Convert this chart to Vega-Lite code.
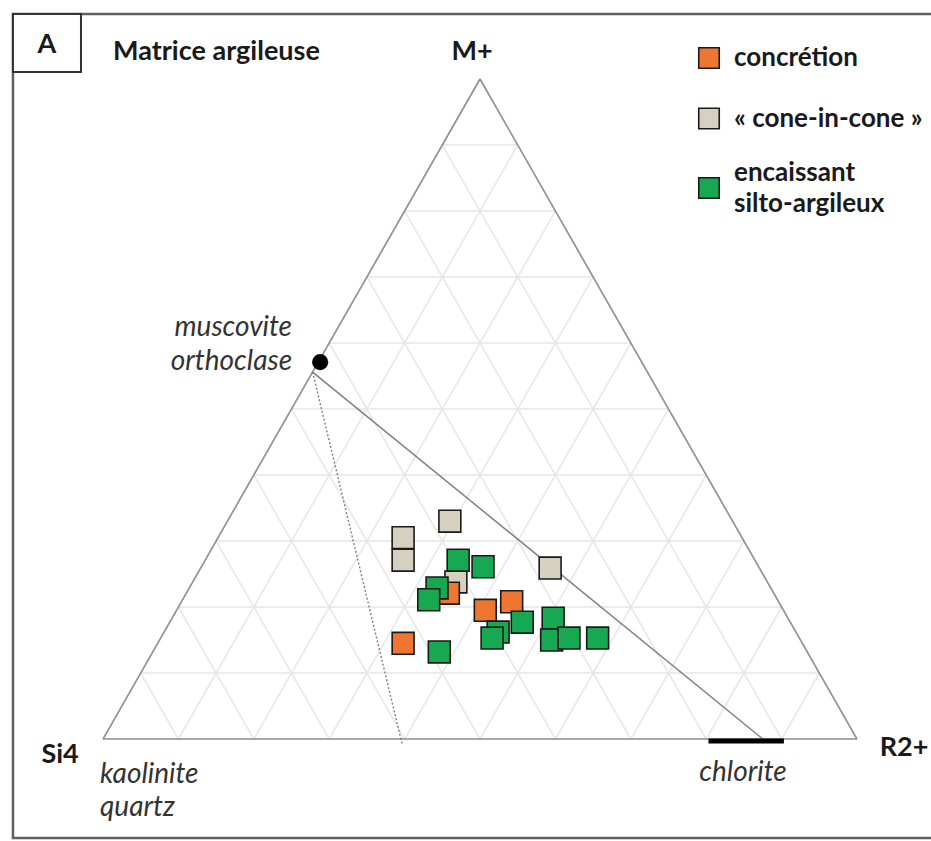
{
  "$schema": "https://vega.github.io/schema/vega-lite/v6.json",
  "width": 931,
  "height": 841,
  "autosize": {"type": "fit", "contains": "padding"},
  "padding": 0,
  "background": "white",
  "config": {"view": {"stroke": null}},
  "datasets": {
    "frame": [{"x": -0.1194, "y": 1.0985, "x2": 1.1034, "y2": -0.15}],
    "abox": [{"x": -0.1194, "y": 1.0985, "x2": -0.0292, "y2": 1.0106}],
    "grid": [
      {"x": 0.05, "y": 0.1, "x2": 0.95, "y2": 0.1}, {"x": 0.1, "y": 0, "x2": 0.55, "y2": 0.9}, {"x": 0.1, "y": 0, "x2": 0.05, "y2": 0.1},
      {"x": 0.1, "y": 0.2, "x2": 0.9, "y2": 0.2}, {"x": 0.2, "y": 0, "x2": 0.6, "y2": 0.8}, {"x": 0.2, "y": 0, "x2": 0.1, "y2": 0.2},
      {"x": 0.15, "y": 0.3, "x2": 0.85, "y2": 0.3}, {"x": 0.3, "y": 0, "x2": 0.65, "y2": 0.7}, {"x": 0.3, "y": 0, "x2": 0.15, "y2": 0.3},
      {"x": 0.2, "y": 0.4, "x2": 0.8, "y2": 0.4}, {"x": 0.4, "y": 0, "x2": 0.7, "y2": 0.6}, {"x": 0.4, "y": 0, "x2": 0.2, "y2": 0.4},
      {"x": 0.25, "y": 0.5, "x2": 0.75, "y2": 0.5}, {"x": 0.5, "y": 0, "x2": 0.75, "y2": 0.5}, {"x": 0.5, "y": 0, "x2": 0.25, "y2": 0.5},
      {"x": 0.3, "y": 0.6, "x2": 0.7, "y2": 0.6}, {"x": 0.6, "y": 0, "x2": 0.8, "y2": 0.4}, {"x": 0.6, "y": 0, "x2": 0.3, "y2": 0.6},
      {"x": 0.35, "y": 0.7, "x2": 0.65, "y2": 0.7}, {"x": 0.7, "y": 0, "x2": 0.85, "y2": 0.3}, {"x": 0.7, "y": 0, "x2": 0.35, "y2": 0.7},
      {"x": 0.4, "y": 0.8, "x2": 0.6, "y2": 0.8}, {"x": 0.8, "y": 0, "x2": 0.9, "y2": 0.2}, {"x": 0.8, "y": 0, "x2": 0.4, "y2": 0.8},
      {"x": 0.45, "y": 0.9, "x2": 0.55, "y2": 0.9}, {"x": 0.9, "y": 0, "x2": 0.95, "y2": 0.1}, {"x": 0.9, "y": 0, "x2": 0.45, "y2": 0.9}
    ],
    "edges": [
      {"x": 0, "y": 0, "x2": 1, "y2": 0},
      {"x": 0, "y": 0, "x2": 0.5, "y2": 1},
      {"x": 0.5, "y": 1, "x2": 1, "y2": 0}
    ],
    "solid": [{"x": 0.278, "y": 0.556, "x2": 0.875, "y2": 0}],
    "dotted": [{"x": 0.278, "y": 0.556, "x2": 0.397, "y2": -0.009}],
    "chlorite": [{"x": 0.803, "y": -0.003, "x2": 0.903, "y2": -0.003}],
    "muscovite": [{"x": 0.288, "y": 0.571}],
    "samples": [
      {"type": "« cone-in-cone »", "x": 0.460, "y": 0.330},
      {"type": "« cone-in-cone »", "x": 0.398, "y": 0.305},
      {"type": "« cone-in-cone »", "x": 0.398, "y": 0.271},
      {"type": "« cone-in-cone »", "x": 0.593, "y": 0.259},
      {"type": "« cone-in-cone »", "x": 0.468, "y": 0.238},
      {"type": "concrétion", "x": 0.458, "y": 0.221},
      {"type": "concrétion", "x": 0.507, "y": 0.195},
      {"type": "concrétion", "x": 0.542, "y": 0.208},
      {"type": "concrétion", "x": 0.398, "y": 0.145},
      {"type": "encaissant silto-argileux", "x": 0.471, "y": 0.271},
      {"type": "encaissant silto-argileux", "x": 0.504, "y": 0.261},
      {"type": "encaissant silto-argileux", "x": 0.443, "y": 0.229},
      {"type": "encaissant silto-argileux", "x": 0.432, "y": 0.211},
      {"type": "encaissant silto-argileux", "x": 0.556, "y": 0.177},
      {"type": "encaissant silto-argileux", "x": 0.524, "y": 0.162},
      {"type": "encaissant silto-argileux", "x": 0.516, "y": 0.153},
      {"type": "encaissant silto-argileux", "x": 0.597, "y": 0.183},
      {"type": "encaissant silto-argileux", "x": 0.595, "y": 0.150},
      {"type": "encaissant silto-argileux", "x": 0.618, "y": 0.153},
      {"type": "encaissant silto-argileux", "x": 0.656, "y": 0.153},
      {"type": "encaissant silto-argileux", "x": 0.446, "y": 0.132}
    ],
    "boldCenter": [
      {"label": "A", "x": -0.0743, "y": 1.0515},
      {"label": "M+", "x": 0.4894, "y": 1.0409},
      {"label": "Si4", "x": -0.057, "y": -0.0242},
      {"label": "R2+", "x": 1.0623, "y": -0.0136}
    ],
    "boldLeft": [{"label": "Matrice argileuse", "x": 0.0133, "y": 1.0409}],
    "italicLeft": [
      {"label": "kaolinite", "x": -0.004, "y": -0.0545},
      {"label": "quartz", "x": -0.004, "y": -0.1045}
    ],
    "italicCenter": [{"label": "chlorite", "x": 0.8488, "y": -0.0515}],
    "italicRight": [
      {"label": "muscovite", "x": 0.2507, "y": 0.6227},
      {"label": "orthoclase", "x": 0.2507, "y": 0.5712}
    ]
  },
  "encoding": {
    "x": {"field": "x", "type": "quantitative", "axis": null, "scale": {"domain": [-0.1366, 1.0981], "nice": false, "zero": false}},
    "y": {"field": "y", "type": "quantitative", "axis": null, "scale": {"domain": [-0.1545, 1.1197], "nice": false, "zero": false}}
  },
  "layer": [
    {"data": {"name": "frame"}, "mark": {"type": "rect", "fill": null, "stroke": "#606060", "strokeWidth": 2.5, "clip": true}, "encoding": {"x2": {"field": "x2"}, "y2": {"field": "y2"}}},
    {"data": {"name": "abox"}, "mark": {"type": "rect", "fill": "white", "stroke": "#333333", "strokeWidth": 2}, "encoding": {"x2": {"field": "x2"}, "y2": {"field": "y2"}}},
    {"data": {"name": "grid"}, "mark": {"type": "rule", "stroke": "#e6e6e6", "strokeWidth": 1.5}, "encoding": {"x2": {"field": "x2"}, "y2": {"field": "y2"}}},
    {"data": {"name": "edges"}, "mark": {"type": "rule", "stroke": "#8c8c8c", "strokeWidth": 1.6}, "encoding": {"x2": {"field": "x2"}, "y2": {"field": "y2"}}},
    {"data": {"name": "solid"}, "mark": {"type": "rule", "stroke": "#808080", "strokeWidth": 1.5}, "encoding": {"x2": {"field": "x2"}, "y2": {"field": "y2"}}},
    {"data": {"name": "dotted"}, "mark": {"type": "rule", "stroke": "#808080", "strokeWidth": 1.4, "strokeDash": [2, 2]}, "encoding": {"x2": {"field": "x2"}, "y2": {"field": "y2"}}},
    {"data": {"name": "chlorite"}, "mark": {"type": "rule", "stroke": "black", "strokeWidth": 5}, "encoding": {"x2": {"field": "x2"}, "y2": {"field": "y2"}}},
    {"data": {"name": "muscovite"}, "mark": {"type": "point", "shape": "circle", "filled": true, "color": "black", "opacity": 1, "size": 260}},
    {
      "data": {"name": "samples"},
      "mark": {"type": "square", "filled": true, "stroke": "#1a1a1a", "strokeWidth": 1.6, "opacity": 1, "size": 480},
      "encoding": {
        "color": {
          "field": "type", "type": "nominal",
          "scale": {"domain": ["concrétion", "« cone-in-cone »", "encaissant silto-argileux"], "range": ["#EE7630", "#D6D0C0", "#17A852"]},
          "legend": {
            "title": null, "orient": "none", "legendX": 696, "legendY": 45, "padding": 0,
            "symbolType": "square", "symbolSize": 420, "symbolStrokeColor": "#1a1a1a", "symbolStrokeWidth": 1.6, "symbolOpacity": 1,
            "labelFont": "Lato", "labelFontWeight": "bold", "labelFontSize": 26, "labelColor": "#1a1a1a",
            "labelOffset": 12, "labelLimit": 400, "rowPadding": 26.5,
            "labelExpr": "datum.label == 'encaissant silto-argileux' ? ['encaissant', 'silto-argileux'] : datum.label == 'concrétion' ? ['concrétion', ' '] : datum.label",
            "encode": {"labels": {"update": {
              "lineHeight": {"signal": "datum.value == 'concrétion' ? 7 : 31"},
              "dy": {"signal": "datum.value == 'encaissant silto-argileux' ? -15.5 : 0"}
            }}}
          }
        }
      }
    },
    {"data": {"name": "boldCenter"}, "mark": {"type": "text", "font": "Lato", "fontWeight": "bold", "fontSize": 27, "align": "center", "baseline": "middle", "color": "#1a1a1a"}, "encoding": {"text": {"field": "label"}}},
    {"data": {"name": "boldLeft"}, "mark": {"type": "text", "font": "Lato", "fontWeight": "bold", "fontSize": 27, "align": "left", "baseline": "middle", "color": "#1a1a1a"}, "encoding": {"text": {"field": "label"}}},
    {"data": {"name": "italicLeft"}, "mark": {"type": "text", "font": "Lato", "fontStyle": "italic", "fontSize": 28, "align": "left", "baseline": "middle", "color": "#333333"}, "encoding": {"text": {"field": "label"}}},
    {"data": {"name": "italicCenter"}, "mark": {"type": "text", "font": "Lato", "fontStyle": "italic", "fontSize": 28, "align": "center", "baseline": "middle", "color": "#333333"}, "encoding": {"text": {"field": "label"}}},
    {"data": {"name": "italicRight"}, "mark": {"type": "text", "font": "Lato", "fontStyle": "italic", "fontSize": 28, "align": "right", "baseline": "middle", "color": "#333333"}, "encoding": {"text": {"field": "label"}}}
  ]
}
